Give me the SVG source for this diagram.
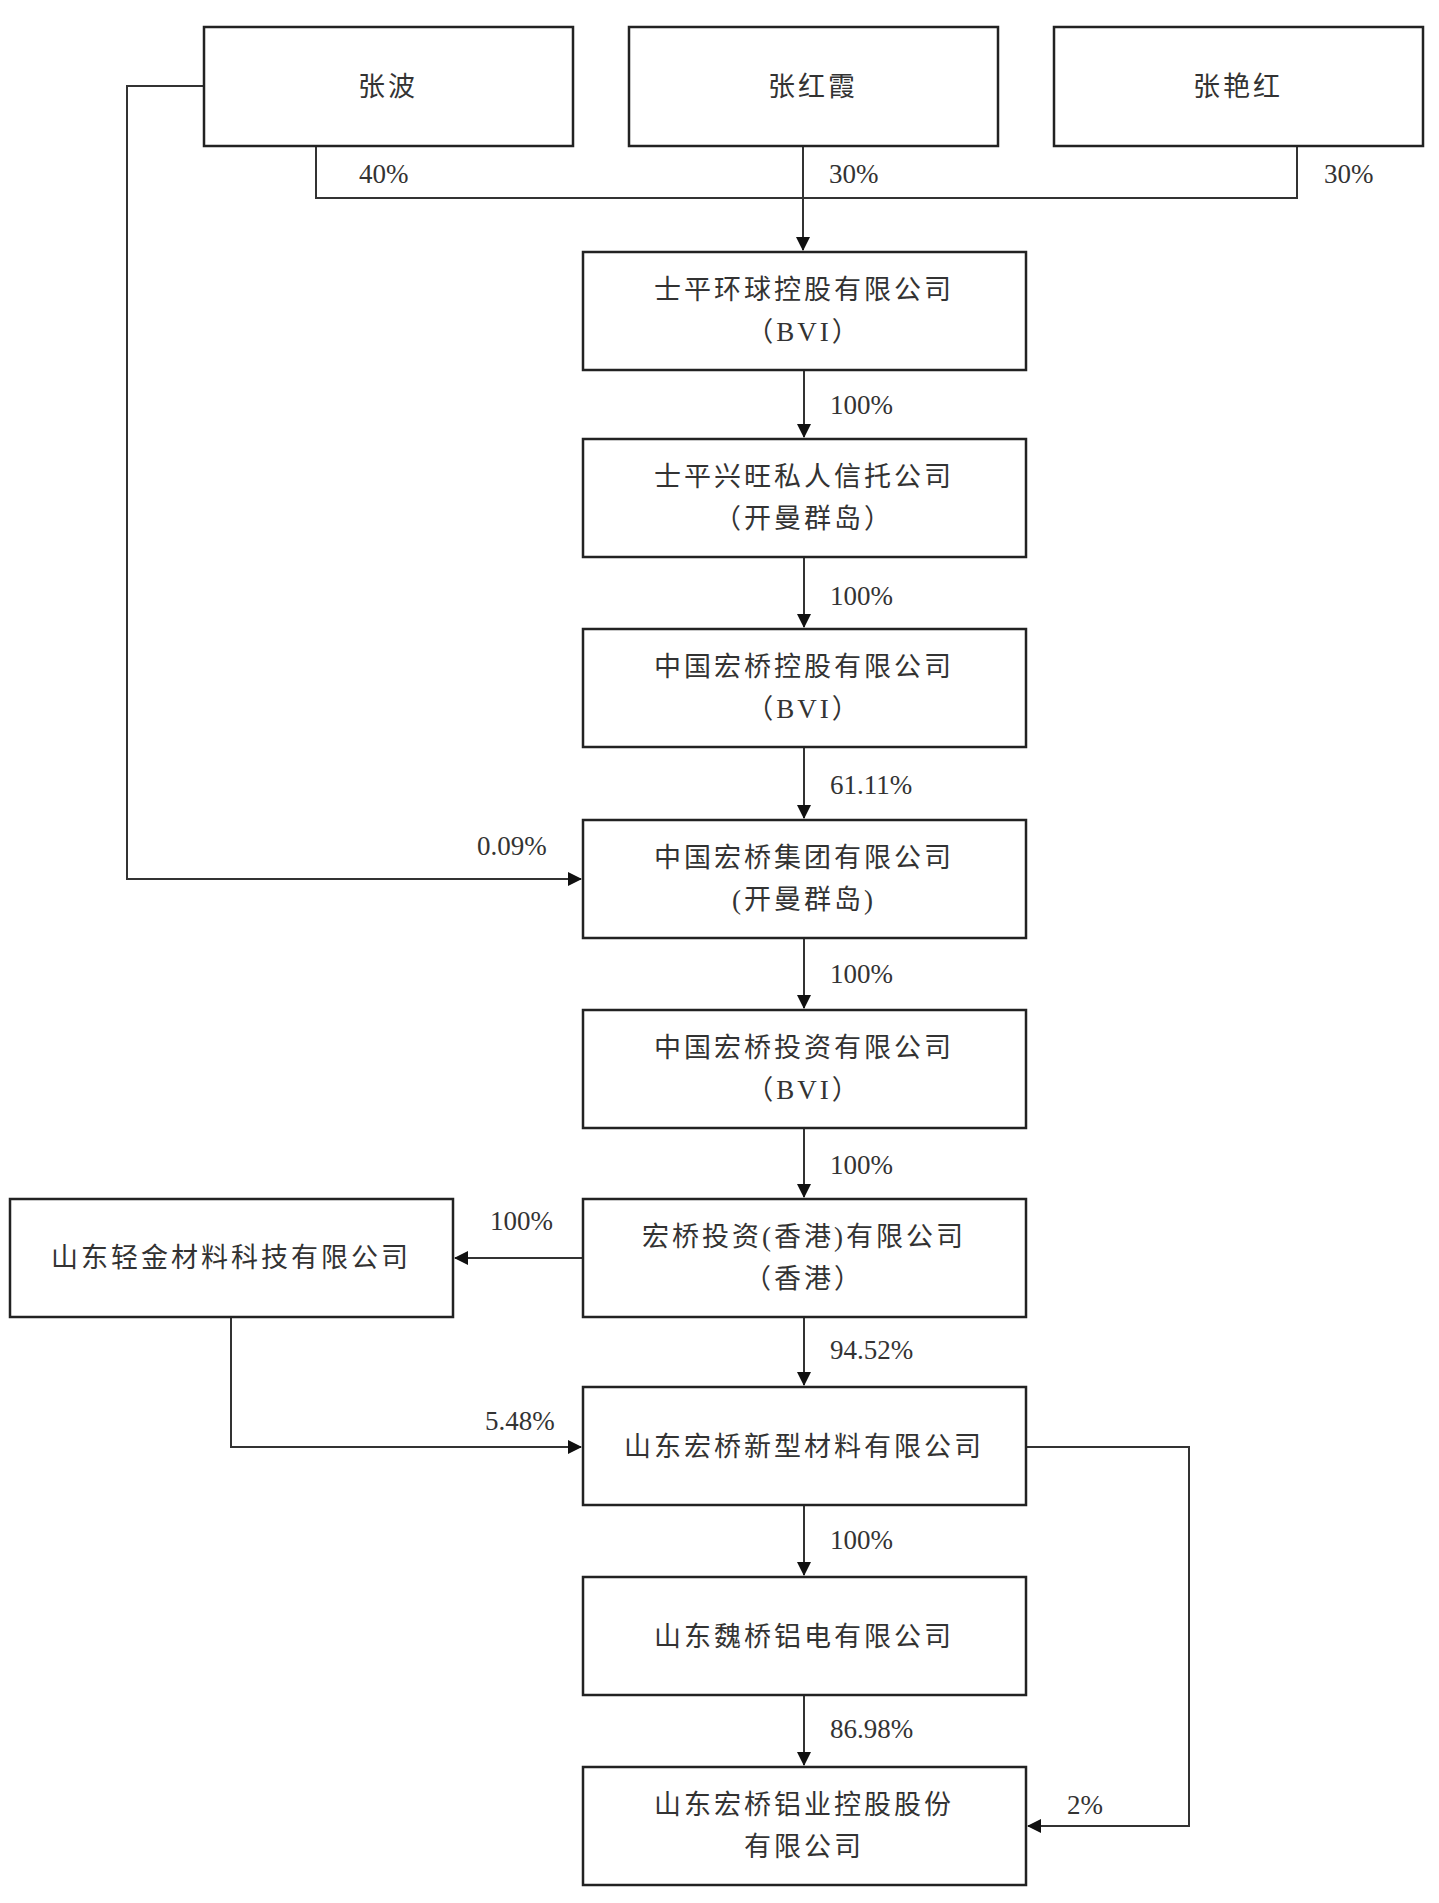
<svg xmlns="http://www.w3.org/2000/svg" width="1439" height="1903" viewBox="0 0 1439 1903">
<style>
rect{fill:#fff;stroke:#222;stroke-width:2.5}
text{font-family:"Liberation Serif","Noto Sans CJK SC",serif;font-size:27px;fill:#333}
.c{text-anchor:middle;letter-spacing:3px}
.l{fill:none;stroke:#333;stroke-width:2}
</style>
<defs><marker id="a" markerWidth="14" markerHeight="14" refX="13" refY="7" orient="auto" markerUnits="userSpaceOnUse"><path d="M0,0L14,7L0,14z" fill="#111"/></marker></defs>
<rect width="1439" height="1903" style="fill:#fff;stroke:none"/>
<g id="connectors">
<path class="l" d="M316,146V198H1297V146M803,146V250" marker-end="url(#a)"/>
<path class="l" d="M804,370V437" marker-end="url(#a)"/>
<path class="l" d="M804,557V627" marker-end="url(#a)"/>
<path class="l" d="M804,747V818" marker-end="url(#a)"/>
<path class="l" d="M804,938V1008" marker-end="url(#a)"/>
<path class="l" d="M804,1128V1197" marker-end="url(#a)"/>
<path class="l" d="M804,1317V1385" marker-end="url(#a)"/>
<path class="l" d="M804,1505V1575" marker-end="url(#a)"/>
<path class="l" d="M804,1695V1765" marker-end="url(#a)"/>
<path class="l" d="M204,86H127V879H581" marker-end="url(#a)"/>
<path class="l" d="M583,1258H455" marker-end="url(#a)"/>
<path class="l" d="M231,1317V1447H581" marker-end="url(#a)"/>
<path class="l" d="M1026,1447H1189V1826H1028" marker-end="url(#a)"/>
<text x="359" y="183">40%</text><text x="829" y="183">30%</text><text x="1324" y="183">30%</text>
<text x="830" y="414">100%</text><text x="830" y="605">100%</text><text x="830" y="794">61.11%</text>
<text x="830" y="983">100%</text><text x="830" y="1174">100%</text><text x="830" y="1359">94.52%</text>
<text x="830" y="1549">100%</text><text x="830" y="1738">86.98%</text>
<text x="477" y="855">0.09%</text><text x="490" y="1230">100%</text><text x="485" y="1430">5.48%</text><text x="1067" y="1814">2%</text>
</g>
<g id="n1"><rect x="204" y="27" width="369" height="119"/><text class="c" x="388" y="96">张波</text></g>
<g id="n2"><rect x="629" y="27" width="369" height="119"/><text class="c" x="813" y="96">张红霞</text></g>
<g id="n3"><rect x="1054" y="27" width="369" height="119"/><text class="c" x="1238" y="96">张艳红</text></g>
<g id="n4"><rect x="583" y="252" width="443" height="118"/><text class="c" x="804" y="299">士平环球控股有限公司</text><text class="c" x="804" y="341">（BVI）</text></g>
<g id="n5"><rect x="583" y="439" width="443" height="118"/><text class="c" x="804" y="486">士平兴旺私人信托公司</text><text class="c" x="804" y="528">（开曼群岛）</text></g>
<g id="n6"><rect x="583" y="629" width="443" height="118"/><text class="c" x="804" y="676">中国宏桥控股有限公司</text><text class="c" x="804" y="718">（BVI）</text></g>
<g id="n7"><rect x="583" y="820" width="443" height="118"/><text class="c" x="804" y="867">中国宏桥集团有限公司</text><text class="c" x="804" y="909">(开曼群岛)</text></g>
<g id="n8"><rect x="583" y="1010" width="443" height="118"/><text class="c" x="804" y="1057">中国宏桥投资有限公司</text><text class="c" x="804" y="1099">（BVI）</text></g>
<g id="n9"><rect x="583" y="1199" width="443" height="118"/><text class="c" x="804" y="1246">宏桥投资(香港)有限公司</text><text class="c" x="804" y="1288">（香港）</text></g>
<g id="n10"><rect x="10" y="1199" width="443" height="118"/><text class="c" x="231" y="1267">山东轻金材料科技有限公司</text></g>
<g id="n11"><rect x="583" y="1387" width="443" height="118"/><text class="c" x="804" y="1456">山东宏桥新型材料有限公司</text></g>
<g id="n12"><rect x="583" y="1577" width="443" height="118"/><text class="c" x="804" y="1646">山东魏桥铝电有限公司</text></g>
<g id="n13"><rect x="583" y="1767" width="443" height="118"/><text class="c" x="804" y="1814">山东宏桥铝业控股股份</text><text class="c" x="804" y="1856">有限公司</text></g>
</svg>
